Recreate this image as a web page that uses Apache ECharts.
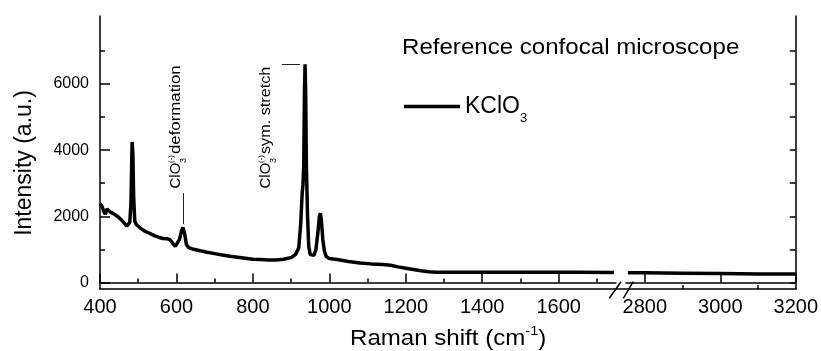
<!DOCTYPE html>
<html>
<head>
<meta charset="utf-8">
<script src="https://cdn.jsdelivr.net/npm/echarts@6/dist/echarts.min.js"></script>
<style>
  html, body { margin: 0; padding: 0; background: #fff; }
  #chart { width: 821px; height: 351px; }
</style>
</head>
<body>
<div id="chart"></div>
<script>
// Raman spectrum of KClO3, x axis broken between 1750 and 2750 cm-1
const leftShift = [400, 405, 410, 414, 418, 422, 428, 435, 440, 448, 456, 464, 470, 474, 478, 481, 484, 486, 488, 491,
  495, 500, 508, 516, 525, 534, 545, 555, 565, 575, 582, 590, 597, 602, 608, 613, 617, 621, 626, 632,
  645, 662, 680, 700, 720, 740, 760, 780, 800, 820, 840, 860, 880, 900, 912, 920, 925, 929, 931, 933,
  935, 936.5, 938, 940, 943, 946, 950, 955, 960, 965, 970, 974, 976.5, 979, 983, 987, 992, 1000, 1020, 1050,
  1080, 1110, 1140, 1160, 1180, 1200, 1220, 1240, 1260, 1280, 1350, 1450, 1550, 1650, 1745]
const leftIntensity = [2380, 2300, 2150, 2060, 2220, 2200, 2120, 2080, 2040, 1980, 1890, 1790, 1700, 1680, 1820, 2400, 4250, 3900, 2600, 1850,
  1750, 1720, 1620, 1560, 1510, 1460, 1400, 1360, 1330, 1320, 1300, 1190, 1090, 1120, 1300, 1550, 1660, 1500, 1150, 1050,
  1000, 960, 910, 870, 830, 790, 760, 730, 700, 690, 680, 680, 700, 750, 850, 1050, 1750, 2700, 2950, 3500,
  5800, 6600, 5800, 3500, 2000, 1100, 840, 780, 820, 1000, 1500, 2000, 2090, 1900, 1300, 950, 780, 720, 690, 630,
  590, 560, 540, 520, 470, 430, 390, 350, 320, 310, 310, 310, 305, 305, 300]
const rightShift = [2755, 2800, 2900, 3000, 3100, 3200]
const rightIntensity = [290, 290, 280, 270, 255, 255]

const majorLeft = [400, 600, 800, 1000, 1200, 1400, 1600]
const minorLeft = [500, 700, 900, 1100, 1300, 1500, 1700]
const majorRight = [2800, 3000, 3200]
const minorRight = [2900, 3100]
const yMajor = [0, 2000, 4000, 6000]
const yMinor = [1000, 3000, 5000, 7000]
const yRight = [0, 1000, 2000, 3000, 4000, 5000, 6000, 7000]

const FONT = '"Liberation Sans", Arial, sans-serif'
const Y_MIN = -200, Y_MAX = 8060

const zip = (xs, ys) => xs.map((x, i) => [x, ys[i]])

const chart = echarts.init(document.getElementById('chart'), null, { renderer: 'canvas' })

const axisLine = { show: true, lineStyle: { color: '#000', width: 1.5 } }
const noLine = { show: false }
const plain = v => String(v)

function xAx(grid, min, max, ticks, len, labels) {
  return {
    type: 'value', gridIndex: grid, position: 'bottom', min: min, max: max,
    axisLine: labels ? axisLine : noLine,
    axisTick: { show: true, inside: true, length: len, customValues: ticks, lineStyle: { color: '#000', width: 1.5 } },
    axisLabel: labels ? { show: true, customValues: ticks, formatter: plain, color: '#000', fontSize: 20, fontFamily: FONT, margin: 8 } : { show: false },
    splitLine: { show: false }
  }
}

function yAx(grid, pos, ticks, len, labels, line) {
  return {
    type: 'value', gridIndex: grid, position: pos, min: Y_MIN, max: Y_MAX,
    axisLine: line ? axisLine : noLine,
    axisTick: { show: true, inside: true, length: len, customValues: ticks, lineStyle: { color: '#000', width: 1.5 } },
    axisLabel: labels ? { show: true, customValues: ticks, formatter: plain, color: '#000', fontSize: 16, fontFamily: FONT, margin: 11 } : { show: false },
    splitLine: { show: false }
  }
}

function peakLabel(x, rest, stretch) {
  return { type: 'group', x: x, y: 188.5, rotation: Math.PI / 2, children: [
    { type: 'text', x: 0, y: 0, style: { text: 'ClO', fill: '#000', font: '15px ' + FONT, align: 'left', verticalAlign: 'middle' } },
    { type: 'text', x: 25.5, y: -5.5, style: { text: '(-)', fill: '#000', font: '8px ' + FONT, align: 'left', verticalAlign: 'middle' } },
    { type: 'text', x: 25.5, y: 7.5, style: { text: '3', fill: '#000', font: '9px ' + FONT, align: 'left', verticalAlign: 'middle' } },
    { type: 'text', x: 34.5, y: 0, scaleX: stretch, style: { text: rest, fill: '#000', font: '15px ' + FONT, align: 'left', verticalAlign: 'middle' } }
  ] }
}

const option = {
  animation: false,
  backgroundColor: '#fff',
  grid: [
    { left: 100, top: 16, width: 696, height: 273 },
    { left: 100, top: 16, width: 516, height: 273 },
    { left: 626, top: 16, width: 170, height: 273 }
  ],
  xAxis: [
    { type: 'value', gridIndex: 0, position: 'top', min: 0, max: 1, axisLine: axisLine,
      axisTick: { show: false }, axisLabel: { show: false }, splitLine: { show: false } },
    xAx(1, 400, 1750, majorLeft, 9, true),
    xAx(1, 400, 1750, minorLeft, 4, false),
    xAx(2, 2750, 3200, majorRight, 9, true),
    xAx(2, 2750, 3200, minorRight, 4, false)
  ],
  yAxis: [
    { type: 'value', gridIndex: 0, show: false },
    yAx(1, 'left', yMajor, 10, true, true),
    yAx(1, 'left', yMinor, 5, false, false),
    yAx(2, 'right', yRight, 6, false, true)
  ],
  legend: {
    data: ['KClO3'],
    left: 399, top: 90,
    icon: 'rect', itemWidth: 56, itemHeight: 3.5,
    itemStyle: { color: '#000' },
    formatter: () => '{a|KClO}{b|3}',
    textStyle: {
      color: '#000', fontFamily: FONT,
      rich: {
        a: { fontSize: 23, lineHeight: 36, fontFamily: FONT, color: '#000', verticalAlign: 'middle' },
        b: { fontSize: 13, lineHeight: 8, fontFamily: FONT, color: '#000', verticalAlign: 'bottom' }
      }
    }
  },
  series: [
    {
      name: 'KClO3', type: 'line', xAxisIndex: 1, yAxisIndex: 1,
      data: zip(leftShift, leftIntensity),
      showSymbol: false, symbol: 'none',
      lineStyle: { color: '#000', width: 3.5 }, itemStyle: { color: '#000' },
      markLine: {
        silent: true, symbol: 'none', animation: false,
        label: { show: false },
        lineStyle: { color: '#222', width: 1, type: 'solid' },
        data: [
          [{ coord: [618.5, 1760] }, { coord: [618.5, 2700] }],
          [{ coord: [876, 6596] }, { coord: [923, 6596] }]
        ]
      }
    },
    {
      name: 'KClO3', type: 'line', xAxisIndex: 3, yAxisIndex: 3,
      data: zip(rightShift, rightIntensity),
      showSymbol: false, symbol: 'none',
      lineStyle: { color: '#000', width: 3.5 }, itemStyle: { color: '#000' }
    }
  ],
  graphic: [
    // title
    { type: 'text', x: 402, y: 48, scaleX: 1.12,
      style: { text: 'Reference confocal microscope', fill: '#000', font: '21.5px ' + FONT, align: 'left', verticalAlign: 'middle' } },
    // y axis name
    { type: 'text', x: 24.5, y: 163, rotation: Math.PI / 2,
      style: { text: 'Intensity (a.u.)', fill: '#000', font: '23px ' + FONT, align: 'center', verticalAlign: 'middle' } },
    // x axis name
    { type: 'text', x: 350, y: 339, scaleX: 1.12,
      style: {
        text: '{a|Raman shift (cm}{s|-1}{a|)}', align: 'left', verticalAlign: 'middle',
        rich: {
          a: { fontSize: 21.5, lineHeight: 28, fontFamily: FONT, fill: '#000', verticalAlign: 'middle' },
          s: { fontSize: 13, lineHeight: 13, fontFamily: FONT, fill: '#000', verticalAlign: 'top' }
        }
      } },
    peakLabel(176, 'deformation', 1.12),
    peakLabel(266, 'sym. stretch', 1.08),
    // axis break marks
    { type: 'line', shape: { x1: 609.3, y1: 298.3, x2: 621, y2: 281.7 }, style: { stroke: '#000', lineWidth: 1.5 } },
    { type: 'line', shape: { x1: 623.3, y1: 298.3, x2: 633.3, y2: 281.7 }, style: { stroke: '#000', lineWidth: 1.5 } }
  ]
}

chart.setOption(option)
</script>
</body>
</html>
